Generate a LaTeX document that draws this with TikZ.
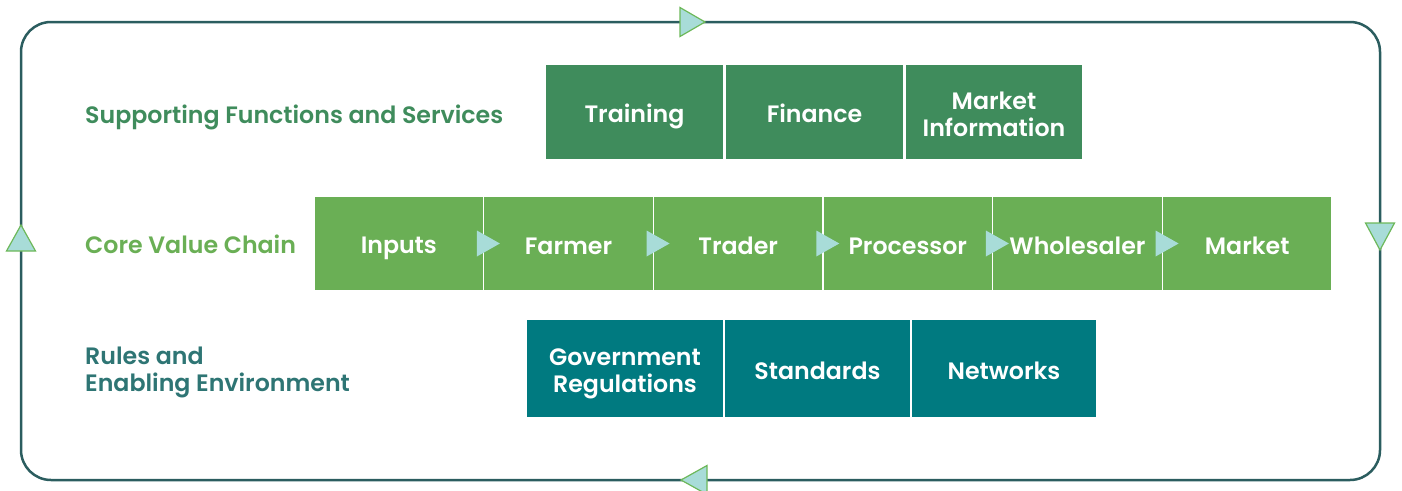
\documentclass[tikz,border=0pt]{standalone}
\usepackage{fontspec}
\setmainfont{Poppins}[BoldFont={Poppins SemiBold}]
\usetikzlibrary{calc}
\definecolor{supgreen}{HTML}{3F8C5C}
\definecolor{coregreen}{HTML}{6AAF55}
\definecolor{ruleteal}{HTML}{007A80}
\definecolor{ruletext}{HTML}{2E7574}
\definecolor{framecol}{HTML}{2B5D5F}
\definecolor{trifill}{HTML}{A8DCD8}
\definecolor{triedge}{HTML}{6DB85A}
% struts that fix where the baselines fall inside the boxes
\newcommand{\onestrut}{\rule[-6pt]{0pt}{33pt}}   % single line: 27pt above, 6pt below
\newcommand{\firststrut}{\rule{0pt}{27pt}}       % first of two lines
\newcommand{\laststrut}{\rule[-6pt]{0pt}{6pt}}   % last of two lines
\begin{document}
\begin{tikzpicture}[x=1pt,y=-1pt,
  txt/.style={font=\bfseries\fontsize{23.7}{27}\selectfont},
  box/.style={txt,draw=white,line width=1.5pt,text=white,align=center,inner sep=0pt},
  supbox/.style={box,fill=supgreen,minimum height=95pt},
  corebox/.style={box,fill=coregreen,minimum height=95pt,minimum width=169.67pt},
  rulebox/.style={box,fill=ruleteal,minimum height=99pt},
  rowlabel/.style={txt,inner sep=0pt,align=left},
  chev/.style={fill=trifill},
  looptri/.style={fill=trifill,draw=triedge,line width=1.2pt,line join=miter}]
\useasboundingbox (0,0) rectangle (1402,490);

% outer feedback loop
\draw[framecol,line width=2.5pt,rounded corners=30pt] (21,22) rectangle (1380,480);
\coordinate (ltop) at (692,22);
\coordinate (lright) at (1380,236);
\coordinate (lbottom) at (694,480);
\coordinate (lleft) at (21,238);
\draw[looptri] ($(ltop)+(-12,-14.5)$) -- ($(ltop)+(13,0)$) -- ($(ltop)+(-12,14.5)$) -- cycle;
\draw[looptri] ($(lright)+(-14.5,-13)$) -- ($(lright)+(14.5,-13)$) -- ($(lright)+(0,14)$) -- cycle;
\draw[looptri] ($(lbottom)+(13,-14.5)$) -- ($(lbottom)+(-13,0)$) -- ($(lbottom)+(13,14.5)$) -- cycle;
\draw[looptri] ($(lleft)+(-14.5,13)$) -- ($(lleft)+(0,-13)$) -- ($(lleft)+(14.5,13)$) -- cycle;

% row labels
\node[rowlabel,text=supgreen,anchor=base west] (suplab) at (85,123) {Supporting Functions and Services};
\node[rowlabel,text=coregreen,anchor=base west] (corelab) at (85,253.5) {Core Value Chain};
\node[rowlabel,text=ruletext,anchor=north west] (rulelab) at (85,337) {\firststrut Rules and\\Enabling Environment};

% supporting functions and services
\node[supbox,minimum width=179pt] (training) at (634.5,112) {\onestrut Training};
\node[supbox,minimum width=179pt] (finance) at (814.5,112) {\onestrut Finance};
\node[supbox,minimum width=178pt] (marketinfo) at (994,112) {\firststrut Market\\\laststrut Information};

% core value chain
\node[corebox] (inputs) at (398.8,243.5) {\onestrut Inputs};
\node[corebox] (farmer) at (568.5,243.5) {\onestrut Farmer};
\node[corebox] (trader) at (738.2,243.5) {\onestrut Trader};
\node[corebox] (processor) at (907.8,243.5) {\onestrut Processor};
\node[corebox] (wholesaler) at (1077.5,243.5) {\onestrut Wholesaler};
\node[corebox] (market) at (1247.2,243.5) {\onestrut Market};

\foreach \a in {inputs,farmer,trader,processor,wholesaler}{
  \fill[chev] ($(\a.east)+(-7.5,-13)$) -- ($(\a.east)+(15.5,0)$) -- ($(\a.east)+(-7.5,13)$) -- cycle;
}

% rules and enabling environment
\node[rulebox,minimum width=198pt] (govreg) at (625,368.5) {\firststrut Government\\\laststrut Regulations};
\node[rulebox,minimum width=187pt] (standards) at (817.5,368.5) {\onestrut Standards};
\node[rulebox,minimum width=186pt] (networks) at (1004,368.5) {\onestrut Networks};
\end{tikzpicture}
\end{document}
